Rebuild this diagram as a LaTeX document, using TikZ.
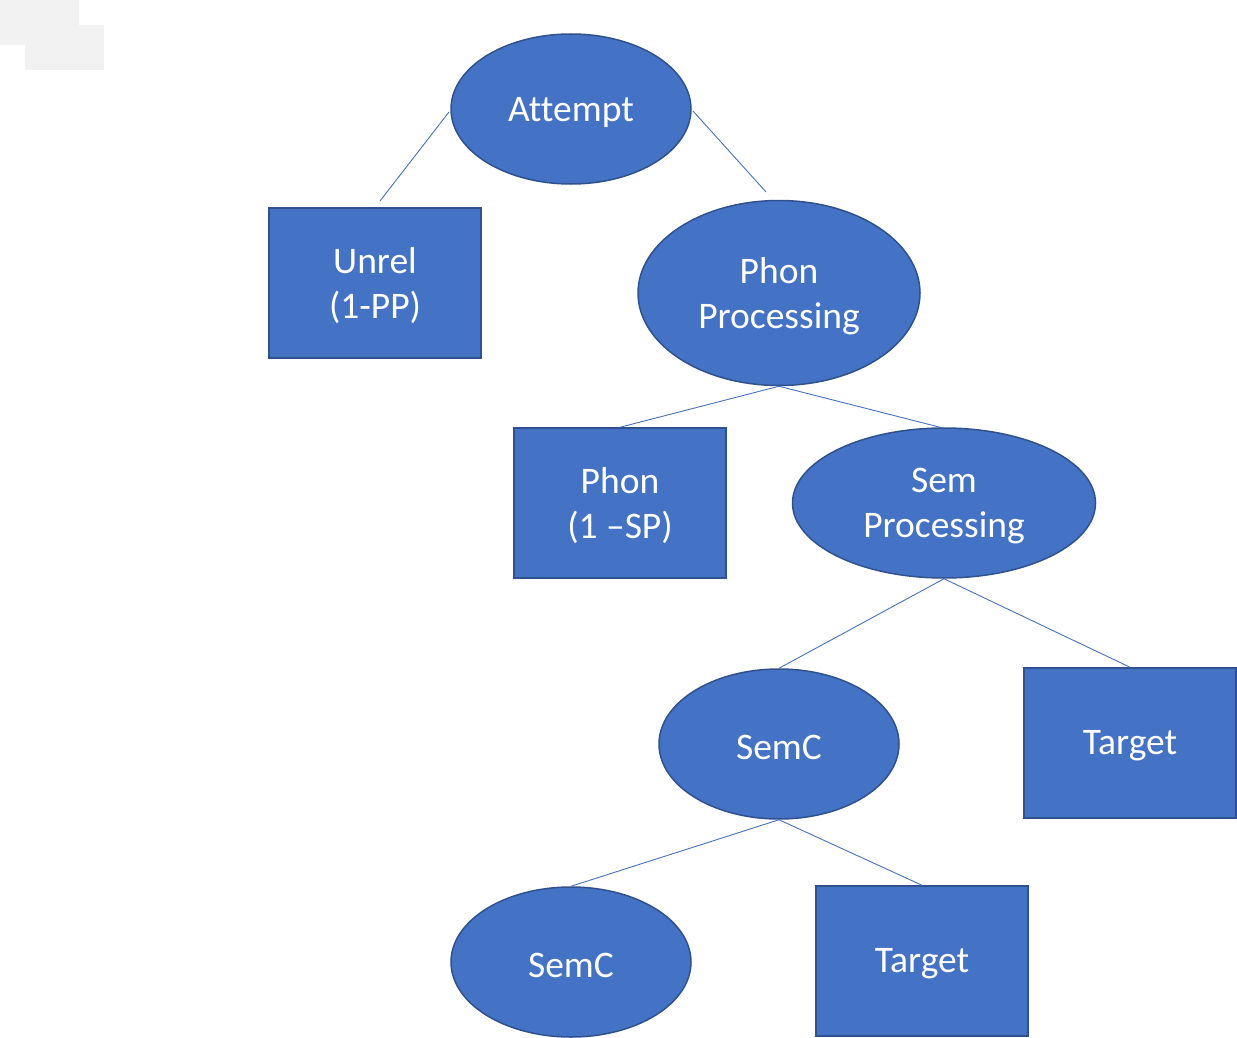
\documentclass[tikz,border=0pt]{standalone}
\usepackage{fontspec}
\setmainfont[Ligatures=NoCommon]{Carlito}
\usetikzlibrary{shapes.geometric}
\definecolor{obl}{HTML}{4472C4}
\definecolor{obd}{HTML}{2F528F}
\definecolor{lgr}{HTML}{F2F2F2}
\tikzset{
  base/.style={fill=obl, draw=obd, line width=1.5pt, inner sep=0pt},
  lbl/.style={text=white, font=\fontsize{37.5}{45}\selectfont, align=center, inner sep=0pt, yshift=-3pt},
  t/.style={label={[lbl]center:#1}},
  ell/.style={base, ellipse},
  box/.style={base, rectangle},
  conn/.style={draw=obl, line width=0.9pt}
}
\begin{document}
\begin{tikzpicture}[x=1pt,y=-1pt]
\useasboundingbox (0,0) rectangle (1237,1038);
\fill[lgr] (0,0) rectangle (79,45);
\fill[lgr] (25,25) rectangle (104,70);
\node[ell, minimum width=240pt, minimum height=150pt, t={Attempt}] (att) at (571,109) {};
\node[box, minimum width=212pt, minimum height=150pt, t={Unrel\\(1-PP)}] (unrel) at (375,283) {};
\node[ell, minimum width=282pt, minimum height=185pt, t={Phon\\Processing}] (pp) at (779,293) {};
\node[box, minimum width=212pt, minimum height=150pt, t={Phon\\(1 –SP)}] (phon) at (620,503) {};
\node[ell, minimum width=303pt, minimum height=150pt, t={Sem\\Processing}] (sp) at (944,503) {};
\node[ell, minimum width=240pt, minimum height=150pt, t={SemC}] (semc) at (779,744) {};
\node[box, minimum width=212pt, minimum height=150pt, t={Target}] (tgt) at (1130,743) {};
\node[ell, minimum width=240pt, minimum height=150pt, t={SemC}] (semc2) at (571,962) {};
\node[box, minimum width=212pt, minimum height=150pt, t={Target}] (tgt2) at (922,961) {};
\coordinate (e1) at (380,201);
\coordinate (e2) at (766,192);
\coordinate (e3) at (943,428);
\draw[conn] (449,112) -- (e1);
\draw[conn] (693,111) -- (e2);
\draw[conn] (pp.south) -- (phon.north);
\draw[conn] (pp.south) -- (e3);
\draw[conn] (sp.south) -- (semc.north);
\draw[conn] (sp.south) -- (tgt.north);
\draw[conn] (semc.south) -- (semc2.north);
\draw[conn] (semc.south) -- (tgt2.north);
\end{tikzpicture}
\end{document}
